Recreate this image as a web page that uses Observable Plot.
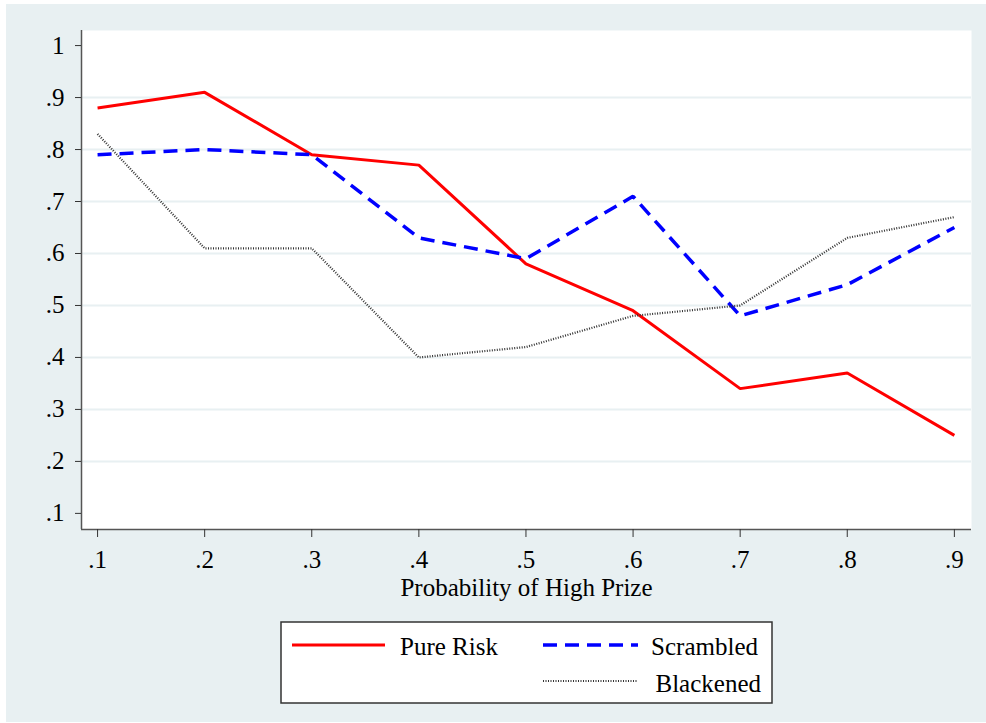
<!DOCTYPE html>
<html>
<head>
<meta charset="utf-8">
<script src="https://cdn.jsdelivr.net/npm/d3@7"></script>
<script src="https://cdn.jsdelivr.net/npm/@observablehq/plot@0.6"></script>
<style>
  html, body { margin: 0; padding: 0; background: #ffffff; }
  #page { position: relative; width: 986px; height: 723px; overflow: hidden; font-family: "Liberation Serif", "DejaVu Serif", serif; }
  #bg { position: absolute; left: 6px; top: 4px; width: 980px; height: 718px; background: #e8f0f2; }
  #chart { position: absolute; left: 0; top: 0; }
  #legend { position: absolute; left: 0; top: 0; }
  svg text { font-family: "Liberation Serif", "DejaVu Serif", serif !important; }
</style>
</head>
<body>
<div id="page">
  <div id="bg"></div>
  <div id="chart"></div>
  <svg id="legend" width="986" height="723"></svg>
</div>
<script>
const probs = [0.1, 0.2, 0.3, 0.4, 0.5, 0.6, 0.7, 0.8, 0.9];
const pureRisk  = [0.88, 0.91, 0.79, 0.77, 0.58, 0.49, 0.34, 0.37, 0.25];
const scrambled = [0.79, 0.80, 0.79, 0.63, 0.59, 0.71, 0.48, 0.54, 0.65];
const blackened = [0.83, 0.61, 0.61, 0.40, 0.42, 0.48, 0.50, 0.63, 0.67];
const seriesNames = ["Pure Risk", "Scrambled", "Blackened"];
const yTicks = [0.1, 0.2, 0.3, 0.4, 0.5, 0.6, 0.7, 0.8, 0.9, 1];
const gridTicks = [0.2, 0.3, 0.4, 0.5, 0.6, 0.7, 0.8, 0.9];
const xTitle = "Probability of High Prize";

const styles = {
  "Pure Risk": {stroke: "#ff0000", strokeWidth: 3, dash: null},
  "Scrambled": {stroke: "#0000ff", strokeWidth: 3.5, dash: "14,8"},
  "Blackened": {stroke: "#333333", strokeWidth: 2.2, dash: "1,1.5"}
};

const rows = [];
[pureRisk, scrambled, blackened].forEach((vals, i) => {
  vals.forEach((v, j) => rows.push({series: seriesNames[i], x: probs[j], y: v}));
});

const xDomain = [0.085, 0.916];
const yDomain = [0.069, 1.029];
const fmt = d => d === 1 ? "1" : String(+d.toFixed(1)).replace(/^0\./, ".");
const font = '"Liberation Serif", "DejaVu Serif", serif';

const lineMarks = seriesNames.map(name => Plot.lineY(rows.filter(r => r.series === name), {
  x: "x", y: "y",
  stroke: styles[name].stroke,
  strokeWidth: styles[name].strokeWidth,
  strokeDasharray: styles[name].dash,
  strokeLinejoin: "miter",
  strokeLinecap: "butt"
}));

const chart = Plot.plot({
  width: 986,
  height: 610,
  marginLeft: 81,
  marginRight: 15,
  marginTop: 30,
  marginBottom: 81,
  style: {background: "transparent", fontFamily: font, fontSize: "25px", color: "#000"},
  x: {domain: xDomain},
  y: {domain: yDomain},
  marks: [
    Plot.frame({fill: "white", stroke: null}),
    Plot.gridY(gridTicks, {stroke: "#e8f0f2", strokeOpacity: 1, strokeWidth: 2}),
    ...lineMarks,
    Plot.ruleX([xDomain[0]], {stroke: "#555", strokeWidth: 1.5}),
    Plot.ruleY([yDomain[0]], {stroke: "#555", strokeWidth: 1.5}),
    Plot.axisY({ticks: yTicks, tickSize: 6, tickPadding: 11, tickFormat: fmt, label: null, stroke: "#333", fill: "#000", fontSize: 25}),
    Plot.axisX({ticks: probs, tickSize: 8, tickPadding: 13, tickFormat: fmt, label: null, stroke: "#333", fill: "#000", fontSize: 25}),
    Plot.text([xTitle], {frameAnchor: "bottom", dy: 58, text: d => d, fontSize: 25, fill: "#000", lineAnchor: "middle"})
  ]
});
document.getElementById("chart").appendChild(chart);

// Legend (drawn in page coordinates)
const lg = d3.select("#legend");
lg.append("rect").attr("x", 281).attr("y", 622).attr("width", 491).attr("height", 81)
  .attr("fill", "white").attr("stroke", "#333").attr("stroke-width", 1.5);
const legendItems = [
  {name: "Pure Risk", x1: 292, x2: 385, y: 645, tx: 400, ty: 655, anchor: "start"},
  {name: "Scrambled", x1: 543, x2: 638, y: 645, tx: 758, ty: 655, anchor: "end"},
  {name: "Blackened", x1: 543, x2: 638, y: 681, tx: 761, ty: 692, anchor: "end"}
];
legendItems.forEach(it => {
  const s = styles[it.name];
  lg.append("line").attr("x1", it.x1).attr("x2", it.x2).attr("y1", it.y).attr("y2", it.y)
    .attr("stroke", s.stroke).attr("stroke-width", s.strokeWidth)
    .attr("stroke-dasharray", s.dash);
  lg.append("text").attr("x", it.tx).attr("y", it.ty).attr("text-anchor", it.anchor)
    .attr("font-size", 25).attr("fill", "#000").text(it.name);
});
</script>
</body>
</html>
